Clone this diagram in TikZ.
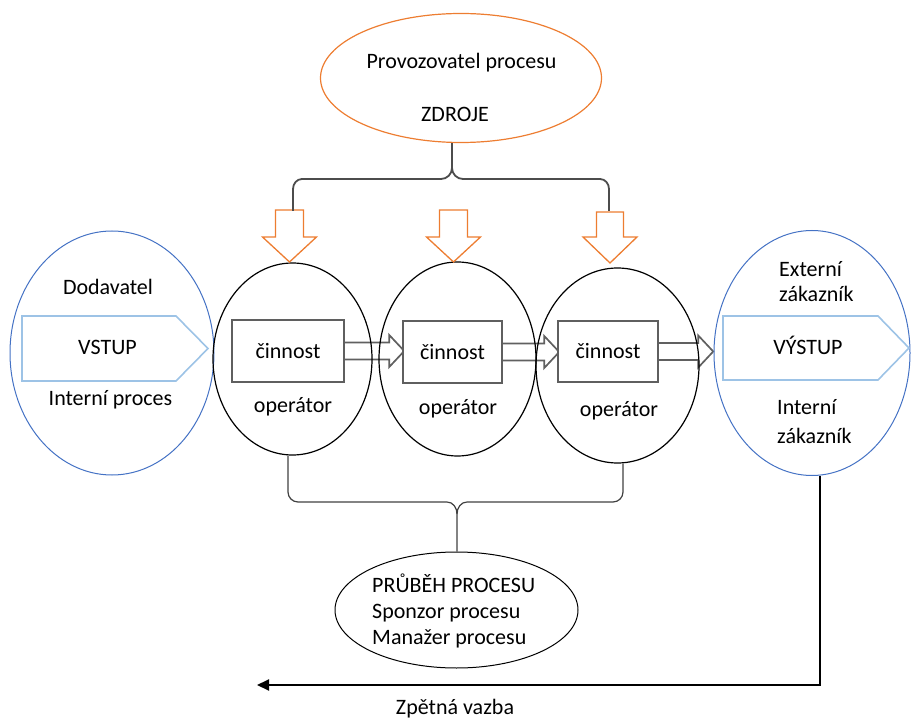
\documentclass[tikz,border=0pt]{standalone}
\usepackage{fontspec}
\setmainfont{Carlito}
\usetikzlibrary{shapes.geometric,arrows.meta}
\definecolor{orng}{HTML}{ED7D31}
\definecolor{blu}{HTML}{4472C4}
\definecolor{lblu}{HTML}{9DC3E6}
\definecolor{gbox}{HTML}{5F5F5F}
\definecolor{garr}{HTML}{606060}
\pgfdeclarelayer{bg}
\pgfsetlayers{bg,main}
\begin{document}
\begin{tikzpicture}[x=1pt,y=-1pt,
  ell/.style={ellipse, draw, line width=1.2pt, inner sep=0pt},
  txt/.style={inner sep=0pt, font=\fontsize{22}{26}\selectfont},
  boxc/.style={draw=gbox, line width=2.5pt, fill=white, inner sep=0pt, font=\fontsize{22}{26}\selectfont},
  blockarr/.style={draw=garr, line width=1.7pt, fill=white, line join=miter},
  downarr/.style={draw=orng, line width=1.3pt, fill=white, line join=miter},
  pent/.style={draw=lblu, line width=1.6pt},
  bracetop/.style={draw=black!70, line width=1.8pt},
  bracebot/.style={draw=black!75, line width=1.2pt},
  fbline/.style={draw=black, line width=2pt, -{Triangle[length=12pt,width=11pt]}}
]
\useasboundingbox (0,0) rectangle (911,719);

% top ellipse
\node[ell, draw=orng, minimum width=281pt, minimum height=129pt] (zdroje) at (461,78) {};
\node[txt, anchor=base] (prov) at (461.5,69) {Provozovatel procesu};
\node[txt, anchor=base] (zdr) at (455,122) {ZDROJE};

% left ellipse
\node[ell, draw=blu, line width=1pt, minimum width=204pt, minimum height=244pt] (dod) at (112,353) {};
\draw[pent] (22,316) -- (176,316) -- (208,348.5) -- (176,381) -- (22,381) -- cycle;
\node[txt, anchor=base] (dodt) at (108,295) {Dodavatel};
\node[txt, anchor=base] (vstup) at (107.5,355) {VSTUP};
\node[txt, anchor=base] (intp) at (110.5,406) {Interní proces};

% right ellipse
\node[ell, draw=blu, line width=1pt, minimum width=196pt, minimum height=245pt] (kon) at (812,353) {};
\draw[pent] (723,316) -- (878,316) -- (909,348) -- (878,380) -- (723,380) -- cycle;
\node[txt, anchor=base west] (ext1) at (779,277) {Externí};
\node[txt, anchor=base west] (ext2) at (779,302) {zákazník};
\node[txt, anchor=base] (vystup) at (808,355) {VÝSTUP};
\node[txt, anchor=base west] (int1) at (777,415) {Interní};
\node[txt, anchor=base west] (int2) at (777,443) {zákazník};

% operator ellipses
\node[ell, minimum width=159pt, minimum height=192pt] (op1) at (292.5,359) {};
\node[ell, minimum width=157pt, minimum height=194pt] (op2) at (457.5,359) {};
\node[ell, minimum width=163pt, minimum height=195pt] (op3) at (617.5,365.5) {};

% activity boxes
\node[boxc, minimum width=112pt, minimum height=62pt] (c1) at (288,351) {činnost};
\node[boxc, minimum width=99pt, minimum height=62pt] (c2) at (452.5,352) {činnost};
\node[boxc, minimum width=100pt, minimum height=61pt] (c3) at (608,351.5) {činnost};

\node[txt, anchor=base] (o1) at (293,413) {operátor};
\node[txt, anchor=base] (o2) at (458,415) {operátor};
\node[txt, anchor=base] (o3) at (619,417) {operátor};

% block arrows (behind)
\begin{pgfonlayer}{bg}
\draw[blockarr] (c1.east) ++(-2,-8.5) -- ++(46,0) -- ++(0,-7.5) -- ++(15,16) -- ++(-15,16) -- ++(0,-7.5) -- ++(-46,0) -- cycle;
\draw[blockarr] (c2.east) ++(-2,-8.5) -- ++(43,0) -- ++(0,-7.5) -- ++(15,16) -- ++(-15,16) -- ++(0,-7.5) -- ++(-43,0) -- cycle;
\draw[blockarr] (c3.east) ++(-2,-8.5) -- ++(41,0) -- ++(0,-7.5) -- ++(15,16) -- ++(-15,16) -- ++(0,-7.5) -- ++(-41,0) -- cycle;
\end{pgfonlayer}

% orange down arrows
\coordinate (dL) at (289.5,210);
\coordinate (dM) at (453.5,210);
\coordinate (dR) at (610,212);
\draw[downarr] (dL) ++(-14,0) -- ++(28,0) -- ++(0,27) -- ++(13,0) -- (289.5,262) -- ++(-27,-25) -- ++(13,0) -- cycle;
\draw[downarr] (dM) ++(-14,0) -- ++(28,0) -- ++(0,27) -- ++(13,0) -- (453.5,262) -- ++(-27,-25) -- ++(13,0) -- cycle;
\draw[downarr] (dR) ++(-13.5,0) -- ++(27,0) -- ++(0,25) -- ++(13.5,0) -- (610,263) -- ++(-27,-26) -- ++(13.5,0) -- cycle;

% top brace
\coordinate (tbM) at (452,168);
\coordinate (tbL) at (293,211);
\coordinate (tbR) at (609,211);
\draw[bracetop] (zdroje.south -| tbM) -- (tbM) to[out=-90,in=0] (441,179) -- (302,179) to[out=180,in=90] (293,189) -- (tbL);
\draw[bracetop] (tbM) to[out=-90,in=180] (463,179) -- (600,179) to[out=0,in=90] (609,189) -- (tbR);

% bottom ellipse
\node[ell, line width=1pt, minimum width=243pt, minimum height=116pt] (prubeh) at (456.5,610) {};
\node[txt, anchor=base west] (p1) at (372,592) {PRŮBĚH PROCESU};
\node[txt, anchor=base west] (p2) at (372,618) {Sponzor procesu};
\node[txt, anchor=base west] (p3) at (372,644) {Manažer procesu};

% bottom brace
\coordinate (bL) at (288,492);
\coordinate (bR) at (623,492);
\coordinate (bM) at (457,514);
\draw[bracebot] (op1.south -| bL) -- (bL) to[out=-90,in=180] (298,502) -- (447,502) to[out=0,in=90] (bM) -- (prubeh.north -| bM);
\draw[bracebot] (op3.south -| bR) -- (bR) to[out=-90,in=0] (613,502) -- (467,502) to[out=180,in=90] (bM);

% feedback
\coordinate (fbC) at (820,685);
\coordinate (fbE) at (257,685);
\draw[fbline] (kon.south -| fbC) -- (fbC) -- (fbE);
\node[txt, anchor=base] (zv) at (455,714) {Zpětná vazba};
\end{tikzpicture}
\end{document}
